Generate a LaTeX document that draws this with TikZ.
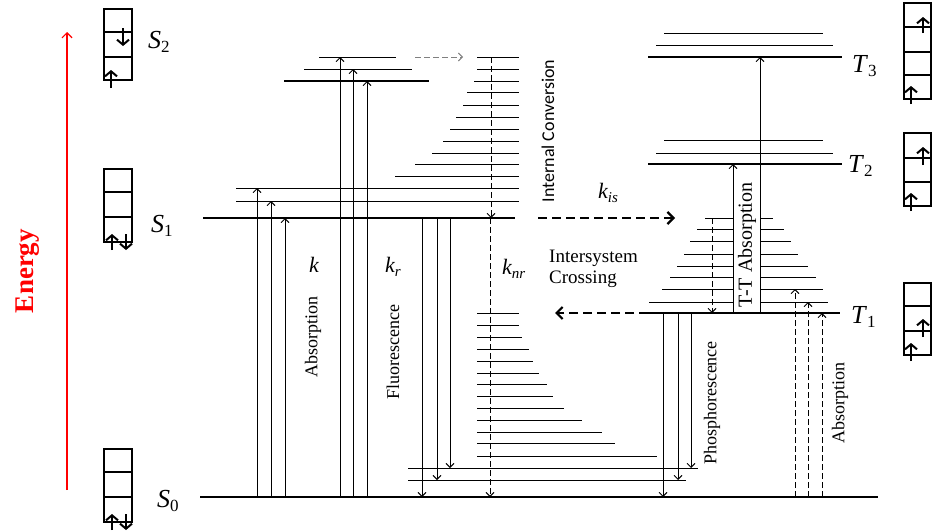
\documentclass[tikz,border=0pt]{standalone}
\usepackage{fontspec}
\setmainfont{Liberation Serif}
\newfontfamily\icfont{Carlito}
\usetikzlibrary{arrows.meta}

\newcommand\lvl[2]{\textit{#1}\raisebox{-0.35ex}{\fontsize{17}{17}\selectfont #2}}

\begin{document}
\begin{tikzpicture}[
    x=1pt, y=-1pt,
    vib/.style={line width=1pt},
    elec/.style={line width=2.6pt},
    line/.style={-{Straight Barb[length=4pt,width=8pt]}, line width=0.9pt},
    dline/.style={line, dash pattern=on 6pt off 3pt},
    isc/.style={-{Straight Barb[length=6pt,width=12pt]}, line width=2.2pt, dash pattern=on 9pt off 5pt},
    spinbox/.style={line width=1.8pt},
    spin/.style={-{Straight Barb[length=5pt,width=12pt,line width=2pt]}, line width=2.2pt},
    statename/.style={font=\fontsize{26}{26}\selectfont, anchor=base west, inner sep=0pt},
    rate/.style={font=\fontsize{22}{22}\selectfont\itshape, anchor=base west, inner sep=0pt},
    vtext/.style={rotate=90, font=\fontsize{18}{18}\selectfont, inner sep=0pt}
]
    \useasboundingbox (0,0) rectangle (933,530);

    % energy axis
    \draw[red, line width=1.2pt, -{Straight Barb[length=5pt,width=10pt]}] (67,490) -- (67,32);
    \node[rotate=90, text=red, font=\fontsize{27}{27}\selectfont\bfseries] (energy) at (28,271) {Energy};

    % spin boxes, singlets
    \draw[spinbox] (104,9) rectangle (132,80) (104,32) -- (132,32) (104,57) -- (132,57);
    \draw[spin] (123,28) -- (123,46);
    \draw[spin] (111,88) -- (111,70);
    \draw[spinbox] (104,169) rectangle (132,242) (104,192) -- (132,192) (104,217) -- (132,217);
    \draw[spin] (112,250) -- (112,234);
    \draw[spin] (126,234) -- (126,250);
    \draw[spinbox] (104,449) rectangle (132,522) (104,472) -- (132,472) (104,497) -- (132,497);
    \draw[spin] (112,530) -- (112,514);
    \draw[spin] (126,514) -- (126,530);

    % spin boxes, triplets
    \draw[spinbox] (904,3) rectangle (931,99) (904,27) -- (931,27) (904,52) -- (931,52) (904,75) -- (931,75);
    \draw[spin] (923,33) -- (923,17);
    \draw[spin] (911,104) -- (911,86);
    \draw[spinbox] (904,133) rectangle (931,206) (904,158) -- (931,158) (904,182) -- (931,182);
    \draw[spin] (923,165) -- (923,147);
    \draw[spin] (911,211) -- (911,193);
    \draw[spinbox] (904,283) rectangle (931,355) (904,306) -- (931,306) (904,331) -- (931,331);
    \draw[spin] (923,337) -- (923,319);
    \draw[spin] (911,361) -- (911,343);

    \node[statename] (s2) at (148,48) {\lvl{S}{2}};
    \node[statename] (s1) at (151,232) {\lvl{S}{1}};
    \node[statename] (s0) at (157,507) {\lvl{S}{0}};
    \node[statename] (t3) at (852,72) {\lvl{T}{3}};
    \node[statename] (t2) at (848,172) {\lvl{T}{2}};
    \node[statename] (t1) at (851,323) {\lvl{T}{1}};

    % singlet levels
    \draw[elec] (284,81) -- (429,81);
    \draw[vib] (304,69) -- (412,69) (319,57) -- (396,57);
    \draw[elec] (203,218) -- (515,218);
    \draw[vib] (236,188) -- (519,188) (236,201) -- (519,201);
    \foreach \y/\a in {57/477, 69/477, 81/474, 92/467, 105/463, 117/456, 129/450, 141/443, 153/432, 164/415, 176/395}
        \draw[vib] (\a,\y) -- (519,\y);
    \draw[elec] (200,497) -- (878,497);
    \draw[vib] (408,468) -- (698,468) (408,480) -- (686,480);
    \foreach \y/\b in {313/519, 325/519, 337/522, 349/529, 361/533, 373/539, 384/547, 396/553, 408/564, 420/582, 432/602, 443/615, 456/657}
        \draw[vib] (477,\y) -- (\b,\y);

    % triplet levels
    \draw[elec] (648,57) -- (842,57);
    \draw[vib] (656,45) -- (833,45) (664,33) -- (823,33);
    \draw[elec] (648,164) -- (842,164);
    \draw[vib] (656,153) -- (833,153) (664,140) -- (823,140);
    \foreach \y/\a/\b in {218/705/773, 229/697/784, 241/690/791, 254/684/798, 266/677/808, 277/670/816, 289/662/823, 302/649/828}
        \draw[vib] (\a,\y) -- (\b,\y);
    \fill[white] (733,205) rectangle (760,310);
    \draw[elec] (648,313) -- (840,313);

    % absorption and emission
    \foreach \x/\y in {257/188, 271/201, 285/218, 340/57, 353/69, 367/81}
        \draw[line] (\x,497) -- (\x,\y);
    \foreach \x/\y in {422/497, 437/480, 450/468}
        \draw[line] (\x,218) -- (\x,\y);
    \foreach \x/\y in {663/497, 678/480, 691/468}
        \draw[line] (\x,313) -- (\x,\y);
    \foreach \x/\y in {795/289, 808/302, 822/313}
        \draw[dline] (\x,497) -- (\x,\y);
    \draw[line] (733,313) -- (733,164);
    \draw[line] (760,313) -- (760,57);

    % non-radiative paths
    \draw[dline, gray] (415,57) -- (463,57);
    \draw[dline] (491,57) -- (491,218);
    \draw[dline] (490,218) -- (490,497);
    \draw[dline] (712,218) -- (712,313);
    \draw[isc] (538,218) -- (675,218);
    \draw[isc] (648,313) -- (555,313);

    \node[rate] (k) at (309,272) {k};
    \node[rate] (kr) at (385,272) {k\raisebox{-0.4ex}{\fontsize{15}{15}\selectfont r}};
    \node[rate] (knr) at (502,274) {k\raisebox{-0.4ex}{\fontsize{15}{15}\selectfont nr}};
    \node[rate] (kis) at (598,198) {k\raisebox{-0.4ex}{\fontsize{15}{15}\selectfont is}};
    \node[anchor=west, align=left, inner sep=0pt, font=\fontsize{19}{21}\selectfont] (isctext) at (549,269) {Intersystem\\Crossing};

    \node[vtext] (absl) at (313,337) {Absorption};
    \node[vtext] (fluo) at (393,352) {Fluorescence};
    \node[vtext, font=\fontsize{18}{18}\icfont] (ic) at (548,131) {Internal Conversion};
    \node[vtext, font=\fontsize{20}{20}\selectfont] (tt) at (747,245) {T-T Absorption};
    \node[vtext] (phos) at (712,403) {Phosphorescence};
    \node[vtext] (absr) at (840,403) {Absorption};
\end{tikzpicture}
\end{document}
